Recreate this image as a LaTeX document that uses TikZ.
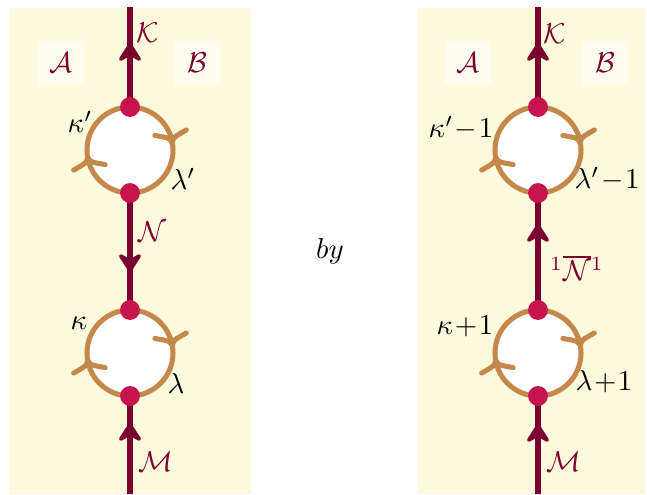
\documentclass[tikz,border=0pt]{standalone}
\usetikzlibrary{arrows.meta}
\definecolor{lmaroon}{HTML}{7A0030}
\definecolor{ldot}{HTML}{C8144E}
\definecolor{lcirc}{HTML}{C4884A}
\definecolor{lpanel}{HTML}{FDF9DC}
\definecolor{lbox}{HTML}{FEFCEC}
\tikzset{
  panel/.style={fill=lpanel},
  mline/.style={draw=lmaroon, line width=2.1pt},
  midtip/.style={mline, -{Stealth[length=7.8pt, width=10pt, inset=2.8pt, round]}},
  cline/.style={draw=lcirc, line width=1.75pt},
  cbarb/.pic={
    \draw[cline, line cap=round, line join=round]
      ({#1-20.3}:28.8) .. controls ({#1-7}:41.3) .. (#1:43)
      .. controls ({#1-6.3}:45.3) .. ({#1-9.6}:59.8);
  },
  vdot/.style={circle, fill=ldot, inner sep=0pt, minimum size=6.9pt},
  lblbox/.style={fill=lbox, minimum width=16.3pt, minimum height=15pt, inner sep=0pt, text=lmaroon},
  mlab/.style={text=lmaroon, inner sep=0pt},
  klab/.style={text=black, inner sep=0pt},
}
\begin{document}
\begin{tikzpicture}[x=0.3472pt, y=-0.3472pt]
\useasboundingbox (0,0) rectangle (647,494);
\fill[white] (0,0) rectangle (647,494);
% panels
\fill[panel] (9,8) rectangle (251,494);
\fill[panel] (418,8) rectangle (645,494);
% label boxes
\node[lblbox] (A1) at (61,63) {$\mathcal{A}$};
\node[lblbox] (B1) at (197,63) {$\mathcal{B}$};
\node[lblbox] (A2) at (468,63) {$\mathcal{A}$};
\node[lblbox] (B2) at (605,63) {$\mathcal{B}$};
% ---------- left diagram ----------
\coordinate (Ltop) at (130,7);
\coordinate (Lbot) at (130,494);
\coordinate (LcU) at (130,150);
\coordinate (LcD) at (130,353);
\draw[mline] (Ltop) -- (Lbot);
\coordinate (La1s) at (130,67);  \coordinate (La1t) at (130,43);
\coordinate (La2s) at (130,248); \coordinate (La2t) at (130,272);
\coordinate (La3s) at (130,447); \coordinate (La3t) at (130,423);
\draw[midtip] (La1s) -- (La1t);
\draw[midtip] (La2s) -- (La2t);
\draw[midtip] (La3s) -- (La3t);
\draw[cline, fill=white] (LcU) circle[radius=43];
\draw[cline, fill=white] (LcD) circle[radius=43];
\pic at (LcU) {cbarb=-10};
\pic at (LcU) {cbarb=170};
\pic at (LcD) {cbarb=-10};
\pic at (LcD) {cbarb=170};
\node[vdot] (LdUt) at (130,107) {};
\node[vdot] (LdUb) at (130,193) {};
\node[vdot] (LdDt) at (130,310) {};
\node[vdot] (LdDb) at (130,396) {};
\node[mlab] (LK) at (148,33) {$\mathcal{K}$};
\node[mlab] (LN) at (152,232) {$\mathcal{N}$};
\node[mlab] (LM) at (156,462) {$\mathcal{M}$};
\node[klab] (Lkp) at (80,122) {$\kappa'$};
\node[klab] (Llp) at (183,179) {$\lambda'$};
\node[klab] (Lk) at (79,323) {$\kappa$};
\node[klab] (Ll) at (176,383) {$\lambda$};
% middle word
\node[klab] (by) at (330,251) {$by$};
% ---------- right diagram ----------
\coordinate (Rtop) at (538,7);
\coordinate (Rbot) at (538,494);
\coordinate (RcU) at (538,150);
\coordinate (RcD) at (538,353);
\draw[mline] (Rtop) -- (Rbot);
\coordinate (Ra1s) at (538,67);  \coordinate (Ra1t) at (538,43);
\coordinate (Ra2s) at (538,248); \coordinate (Ra2t) at (538,224);
\coordinate (Ra3s) at (538,448); \coordinate (Ra3t) at (538,424);
\draw[midtip] (Ra1s) -- (Ra1t);
\draw[midtip] (Ra2s) -- (Ra2t);
\draw[midtip] (Ra3s) -- (Ra3t);
\draw[cline, fill=white] (RcU) circle[radius=43];
\draw[cline, fill=white] (RcD) circle[radius=43];
\pic at (RcU) {cbarb=-10};
\pic at (RcU) {cbarb=170};
\pic at (RcD) {cbarb=-10};
\pic at (RcD) {cbarb=170};
\node[vdot] (RdUt) at (538,107) {};
\node[vdot] (RdUb) at (538,193) {};
\node[vdot] (RdDt) at (538,310) {};
\node[vdot] (RdDb) at (538,396) {};
\node[mlab] (RK) at (555,34) {$\mathcal{K}$};
\node[mlab] (RN) at (577,268) {${}^1\overline{\mathcal{N}}{}^1$};
\node[mlab] (RM) at (564,462) {$\mathcal{M}$};
\node[klab] (Rkp) at (461,128) {$\kappa'\mkern1mu{-}\mkern1mu1$};
\node[klab] (Rlp) at (607,179) {$\lambda'\mkern1mu{-}\mkern1mu1$};
\node[klab] (Rk) at (465,326) {$\kappa\mkern1mu{+}\mkern1mu1$};
\node[klab] (Rl) at (604,382) {$\lambda\mkern1mu{+}\mkern1mu1$};
\end{tikzpicture}
\end{document}
